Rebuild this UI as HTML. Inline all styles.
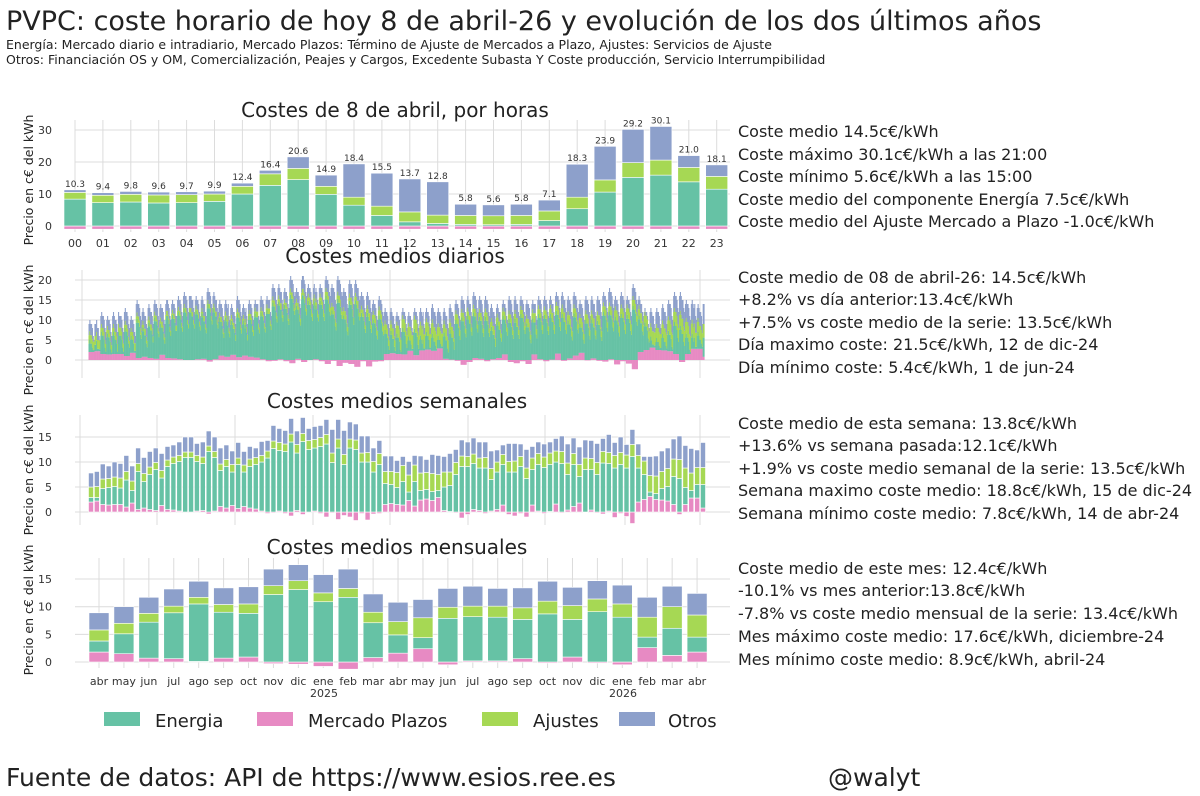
<!DOCTYPE html>
<html><head><meta charset="utf-8"><style>
body{margin:0;background:#fff;}
svg{display:block;font-family:"DejaVu Sans","Liberation Sans",sans-serif;}
.tk{font-size:11px;fill:#333;}
.rt{font-size:16px;fill:#222;}
</style></head><body>
<svg id="s" width="1200" height="796" viewBox="0 0 1200 796">
<text x="6" y="30" font-size="27" fill="#222">PVPC: coste horario de hoy 8 de abril-26 y evolución de los dos últimos años</text>
<text x="6" y="49" font-size="12.5" fill="#222">Energía: Mercado diario e intradiario, Mercado Plazos: Término de Ajuste de Mercados a Plazo, Ajustes: Servicios de Ajuste</text>
<text x="6" y="64" font-size="12.5" fill="#222">Otros: Financiación OS y OM, Comercialización, Peajes y Cargos, Excedente Subasta Y Coste producción, Servicio Interrumpibilidad</text>
<g id="grid"></g><g id="bars"></g>
<text x="395" y="117" font-size="20" text-anchor="middle" fill="#222">Costes de 8 de abril, por horas</text>
<text x="395" y="263" font-size="20" text-anchor="middle" fill="#222">Costes medios diarios</text>
<text x="397" y="408" font-size="20" text-anchor="middle" fill="#222">Costes medios semanales</text>
<text x="397" y="554" font-size="20" text-anchor="middle" fill="#222">Costes medios mensuales</text>
<g class="rt">
<text x="738" y="137">Coste medio 14.5c€/kWh</text>
<text x="738" y="160">Coste máximo 30.1c€/kWh a las 21:00</text>
<text x="738" y="182">Coste mínimo 5.6c€/kWh a las 15:00</text>
<text x="738" y="205">Coste medio del componente Energía 7.5c€/kWh</text>
<text x="738" y="227">Coste medio del Ajuste Mercado a Plazo -1.0c€/kWh</text>
</g>
<g class="rt">
<text x="738" y="283">Coste medio de 08 de abril-26: 14.5c€/kWh</text>
<text x="738" y="305">+8.2% vs día anterior:13.4c€/kWh</text>
<text x="738" y="328">+7.5% vs coste medio de la serie: 13.5c€/kWh</text>
<text x="738" y="350">Día maximo coste: 21.5c€/kWh, 12 de dic-24</text>
<text x="738" y="373">Día mínimo coste: 5.4c€/kWh, 1 de jun-24</text>
</g>
<g class="rt">
<text x="738" y="429">Coste medio de esta semana: 13.8c€/kWh</text>
<text x="738" y="451">+13.6% vs semana pasada:12.1c€/kWh</text>
<text x="738" y="474">+1.9% vs coste medio semanal de la serie: 13.5c€/kWh</text>
<text x="738" y="496">Semana maximo coste medio: 18.8c€/kWh, 15 de dic-24</text>
<text x="738" y="519">Semana mínimo coste medio: 7.8c€/kWh, 14 de abr-24</text>
</g>
<g class="rt">
<text x="738" y="574">Coste medio de este mes: 12.4c€/kWh</text>
<text x="738" y="596">-10.1% vs mes anterior:13.8c€/kWh</text>
<text x="738" y="619">-7.8% vs coste medio mensual de la serie: 13.4c€/kWh</text>
<text x="738" y="642">Mes máximo coste medio: 17.6c€/kWh, diciembre-24</text>
<text x="738" y="665">Mes mínimo coste medio: 8.9c€/kWh, abril-24</text>
</g>
<g font-size="18" fill="#222">
<rect x="104" y="712" width="36" height="14" fill="#66c2a5"/>
<text x="155" y="727">Energia</text>
<rect x="257" y="712" width="36" height="14" fill="#e78ac3"/>
<text x="308" y="727">Mercado Plazos</text>
<rect x="482" y="712" width="36" height="14" fill="#a6d854"/>
<text x="533" y="727">Ajustes</text>
<rect x="619" y="712" width="36" height="14" fill="#8da0cb"/>
<text x="668" y="727">Otros</text>
</g>
<text x="6" y="786" font-size="25" fill="#222">Fuente de datos: API de https://www.esios.ree.es</text>
<text x="828" y="786" font-size="25" fill="#222">@walyt</text>
</svg>
<script>
// ---- hourly data ----
const hours = ["00","01","02","03","04","05","06","07","08","09","10","11","12","13","14","15","16","17","18","19","20","21","22","23"];
const hLabel = [10.3,9.4,9.8,9.6,9.7,9.9,12.4,16.4,20.6,14.9,18.4,15.5,13.7,12.8,5.8,5.6,5.8,7.1,18.3,23.9,29.2,30.1,21.0,18.1];
const hPink = [-1,-1,-1,-1,-1,-1,-1,-1,-1,-1,-1,-1,-1,-1,-1,-1,-1,-1,-1,-1,-1,-1,-1,-1];
const hEneTop = [8.4,7.3,7.5,7.2,7.3,7.7,10,12.7,14.5,9.9,6.5,3.3,1.3,0.8,0.5,0.4,0.5,1.7,5.4,10.6,15.2,15.9,13.8,11.5];
const hAjuTop = [10.5,9.6,9.9,9.7,9.8,10,12.4,16.3,18,12.4,9,6.2,4.4,3.4,3.3,3.2,3.3,4.7,9,14.4,19.8,20.6,18.3,15.5];
const hTicks = [0,10,20,30];
// ---- weekly data ----
const wTop = [7.8,8.1,9.6,9.2,10,9.7,11.3,9.2,12.8,10.9,12.1,12.8,11.7,13.1,13.4,14,15,15,13.7,14,16.2,15,12.8,13.4,12.2,13.9,12.1,13.1,12.8,14.1,14.3,17.3,16.7,16.3,18.7,16.2,18.9,16.7,17.1,17.3,18.5,16.5,18.5,16.3,18,17.6,15.2,15.2,12.8,14.3,11.2,11.2,10.3,11.1,10.1,11.3,11.2,10.5,11.5,11.3,11.1,11.7,12.5,14.4,14,14.8,14,14,12.2,12.4,13.4,13.7,13.7,13.6,12.5,13.1,14,13.6,14,14.7,15.2,13.6,14.8,13,14.4,14.3,13.7,14.7,15.5,13.9,15,13.5,16.5,13.6,11.1,11.1,11.2,12.2,12.8,14.6,15.2,13.3,12.7,12.4,13.9];
const wPink = [2.0,2.2,1.5,1.4,1.5,1.5,1.0,1.8,0.5,0.8,0.5,0.3,1.3,0.5,0.4,0.2,0,0,0.2,0.3,-0.4,0.2,1.1,0.8,1.3,0.7,1.1,0.8,0.6,0.2,-0.3,-0.2,0.2,-0.3,-0.8,0.3,-0.5,0,0.2,-0.3,-1.0,-0.2,-1.5,-0.7,-1.0,-1.7,-0.3,-1.6,-0.4,-0.3,1.5,1.7,1.5,1.4,2.3,1.2,2.4,2.6,2.3,2.9,0.3,0.1,-0.2,-1.2,-0.5,0.5,0.3,-0.3,0.2,0.5,1.4,-0.5,-0.8,-0.3,-1.0,1.4,0.2,-0.3,0.1,1.6,-0.2,0.4,1.1,1.8,-0.1,0.4,-0.2,-0.4,0.2,-1.1,-0.3,-0.9,-2.3,2.0,2.5,3.1,2.5,2.4,2.2,1.5,-0.5,1.5,2.8,2.8,0.8];
const wEneTop = [2.9,2.9,4.7,4.9,5.1,4.8,6.4,4.3,8.1,6.1,7.5,8.5,6.8,9.1,9.7,10.1,10.9,10.9,10.1,9.7,12.1,10.9,8.3,9.1,8,9.5,8,9.1,9.5,10,10.8,12.7,12.3,12.1,14,11.8,14.1,12.5,12.8,13.1,13.6,9.9,12.8,9.5,12.8,12.5,10,10,8,9.5,5.7,5.5,4.9,6.1,4,6.1,4.3,4.5,4.1,4.3,5,5.3,7.5,9.1,9.1,9.7,8.8,8.8,6.5,8,9.5,8,8,9.1,6.7,8.5,9.5,8.9,9.5,10,9.7,7.5,9.5,7.1,8.5,8.5,7.5,9.8,9.7,8.8,9.5,8.8,11.1,8.8,7.5,4,3.7,4.7,5.1,7.1,6.7,4.9,4.3,5.5,5.5];
const wAju = [2.1,2.2,1.9,1.8,1.9,2.0,1.7,1.9,1.6,1.6,1.5,1.4,1.5,1.3,1.3,1.2,1.1,1.1,1.2,1.3,1.1,1.2,1.3,1.4,1.5,1.3,1.4,1.5,1.4,1.3,1.4,1.5,1.6,1.5,1.6,1.7,1.6,1.8,1.7,1.8,1.9,1.9,1.8,2.0,1.8,1.9,1.8,1.9,2.1,2.2,2.4,2.6,3.0,3.2,3.4,3.3,3.5,3.4,3.6,3.2,3.0,2.7,2.4,2.1,2.0,1.9,2.0,2.1,2.2,2.0,2.0,2.1,2.2,2.0,2.1,2.3,2.2,2.1,2.3,2.2,2.4,2.3,2.2,2.4,2.3,2.2,2.4,2.3,2.2,2.5,2.4,2.6,2.4,2.5,2.7,3.3,3.5,3.4,3.6,3.5,3.8,3.9,3.5,3.4,3.4];
const wTicks = [0,5,10,15];
// ---- daily data (one char per day, base-36 c€/kWh bar top, grouped by week) ----
const dWeeks = ["9a99865","99a8865","bcbba87","abaa976","bcbaa97","cbbba87","cdccb98","abaa976","efeedba","cdcbb98","dedccb9","efeedba","deddca9","effedba","efeedbb","fgffecb","ghggfdc","gggffdc","fgffecb","fgfeecb","hihhged","ghgffdc","efeedba","efedeba","dedccb9","fgffecb","dedcdb9","efeedba","efeeeba","fgffecb","fgfffcb","ijiihfe","ijihhfe","hihhged","klkkjhg","hihhged","kllkjhg","ijiihfe","ijhihfe","ijiihfe","klkkjhg","ijiihfe","klkkjhg","hihhged","jkjjige","jkjiigf","ghggfdc","ghgffdc","efeedba","fgffecb","cdccb98","cdcbb98","bcbba87","cdccb98","bcbba87","cdccb98","cdcbc98","cdccb98","dedccb9","cdccb98","cdcbb98","dedccb9","efeedba","fgffecb","fgfeecb","ghggfdc","fgffecb","fgffecb","dedccb9","dedcca9","efeedba","fgffecb","fgfeecb","fgffecb","efeedba","efeeeba","fgffecb","fgffecb","fgfeecb","ghggfdc","ghgffdc","fgffecb","ghggfdc","efeedba","fgffecb","fgfeecb","fgffecb","ghggfdc","hihhged","fgffecb","ghggfdc","fgffecb","ijiihfe","fgfeecb","cdccb98","cdcbb98","cdccb98","dedccb9","efeedba","ghggfdc","ghgffdc","efeedba","efedeba","dedccb9","ee"];
const dTicks = [0,5,10,15,20];
// ---- monthly data ----
const months = ["abr","may","jun","jul","ago","sep","oct","nov","dic","ene","feb","mar","abr","may","jun","jul","ago","sep","oct","nov","dic","ene","feb","mar","abr"];
const mPink = [1.8,1.5,0.7,0.6,0.1,0.7,0.9,-0.3,-0.4,-0.8,-1.3,0.8,1.6,2.4,-0.5,0.2,0.2,0.6,-0.2,0.9,-0.2,-0.5,2.6,1.2,1.8];
const mEneTop = [3.8,5.1,7.2,8.9,10.5,9.0,8.8,12.2,13.1,10.9,11.7,7.1,4.9,4.4,7.9,8.2,8.1,7.7,8.7,7.7,9.1,8.1,4.5,6.1,4.5];
const mAjuTop = [5.8,7.0,8.8,10.1,11.7,10.4,10.5,13.8,14.7,12.5,13.3,9.0,7.3,8.0,9.9,10.1,10.1,9.8,11.0,10.2,11.4,10.5,8.1,10.0,8.5];
const mTop = [8.9,10.0,11.7,13.2,14.6,13.4,13.6,16.8,17.6,15.8,16.8,12.3,10.8,11.3,13.3,13.7,13.3,13.4,14.6,13.5,14.7,13.9,11.7,13.7,12.4];
const mTicks = [0,5,10,15];

const NS = "http://www.w3.org/2000/svg";
const G = document.getElementById("grid"), B = document.getElementById("bars");
const C = {pink:"#e78ac3", ene:"#66c2a5", aju:"#a6d854", otr:"#8da0cb"};
function mk(tag, at, parent){const e=document.createElementNS(NS,tag);for(const k in at)e.setAttribute(k,at[k]);parent.appendChild(e);return e;}
function rect(x,w,ya,yb,fill,parent,stroke){
  const y=Math.min(ya,yb),h=Math.abs(ya-yb);
  const at={x:x,y:y,width:w,height:Math.max(h,0),fill:fill};
  if(stroke){at.stroke="#fff";at["stroke-width"]=0.6;}
  return mk("rect",at,parent);
}
function axes(name,yf,ticks,x0,x1,titleY){
  const g=mk("g",{},G);
  
  
  ticks.forEach(t=>{
    const y=yf(t);
    const l=mk("line",{x1:x0,x2:x1,y1:y,y2:y,stroke:"#dcdcdc","stroke-width":1},g);
    
    
    const tx=mk("text",{x:x0-23,y:y+4,"text-anchor":"end",class:"tk"},g);
    tx.textContent=t;
    
    
  });
  const yt=mk("text",{transform:"translate(33,"+titleY+") rotate(-90)","text-anchor":"middle","font-size":"12.5",fill:"#222"},g);
  yt.textContent="Precio en c€ del kWh";
  
  
  return g;
}
function vgrid(g,x,y0,y1){mk("line",{x1:x,x2:x,y1:y0,y2:y1,stroke:"#dcdcdc","stroke-width":1},g);}
function stack(name,x,w,yf,pink,eneTop,ajuTop,top,stroke){
  const g=mk("g",{},B);
  
  
  const base=Math.max(pink,0);
  rect(x,w,yf(0),yf(pink),C.pink,g,stroke);
  rect(x,w,yf(base),yf(Math.max(eneTop,base)),C.ene,g,stroke);
  rect(x,w,yf(Math.max(eneTop,base)),yf(Math.max(ajuTop,eneTop,base)),C.aju,g,stroke);
  rect(x,w,yf(Math.max(ajuTop,eneTop,base)),yf(Math.max(top,ajuTop,eneTop,base)),C.otr,g,stroke);
  return g;
}
// hourly
const hy=v=>226-3.2*v, hx=i=>75+i*27.9;
const hg=axes("hourly",hy,hTicks,75,730,180);
hours.forEach((h,i)=>{
  vgrid(hg,hx(i),120,232);
  const t=mk("text",{x:hx(i),y:247,"text-anchor":"middle",class:"tk"},hg);
  t.textContent=h;
  
  
});
hLabel.forEach((v,i)=>{
  const top=v-hPink[i];
  stack("hour-bar-"+hours[i],hx(i)-11,22,hy,hPink[i],hEneTop[i],hAjuTop[i],top,true);
  const t=mk("text",{x:hx(i),y:hy(top)-3,"text-anchor":"middle","font-size":"9",fill:"#333"},B);
  t.textContent=v.toFixed(1);
  
  
});
// weekly
const wy=v=>512-5*v, wn=wTop.length, wx=i=>91+i*(612/(wn-1));
const wg=axes("weekly",wy,wTicks,75,730,470);
[80,157,235,313,390,468,545,625,700].forEach(x=>vgrid(wg,x,415,525));
const wOtr=[];
wTop.forEach((t,i)=>{
  const p=wPink[i]??0, e=wEneTop[i]??0, a=e+(wAju[i]??2);
  wOtr.push(Math.max(t-a,0));
  stack("week-bar",wx(i)-2.5,5,wy,p,e,a,t,true);
});
// daily
const dTot=dWeeks.join("").split("").map(c=>parseInt(c,36));
const dy=v=>360-4*v, dn=dTot.length, dx=i=>89+i*(615/(dn-1));
const dg=axes("daily",dy,dTicks,75,730,330);
[82,159,237,313,390,468,545,625,700].forEach(x=>vgrid(dg,x,270,378));
dTot.forEach((t,i)=>{
  const w=Math.min(Math.floor(i/7),wn-1);
  const p=wPink[w]??0, aj=wAju[w]??2, ot=wOtr[w];
  const a=Math.max(t-ot,Math.max(p,0)+aj+0.5), e=a-aj;
  stack("day-bar",dx(i)-0.5,1.1,dy,p,e,a,t,false);
});
// monthly
const my=v=>662-5.53*v, mx=i=>99+i*24.92;
const mg=axes("monthly",my,mTicks,75,730,610);
months.forEach((m,i)=>{
  vgrid(mg,mx(i),558,668);
  const t=mk("text",{x:mx(i),y:685,"text-anchor":"middle",class:"tk"},mg);
  t.textContent=m;
  
  
  stack("month-bar-"+i,mx(i)-10,20,my,mPink[i],mEneTop[i],mAjuTop[i],mTop[i],true);
});
[["2025",324],["2026",623]].forEach(([y,x])=>{
  const t=mk("text",{x:x,y:697,"text-anchor":"middle",class:"tk"},mg);
  t.textContent=y;
  
  
});
</script>
</body></html>
